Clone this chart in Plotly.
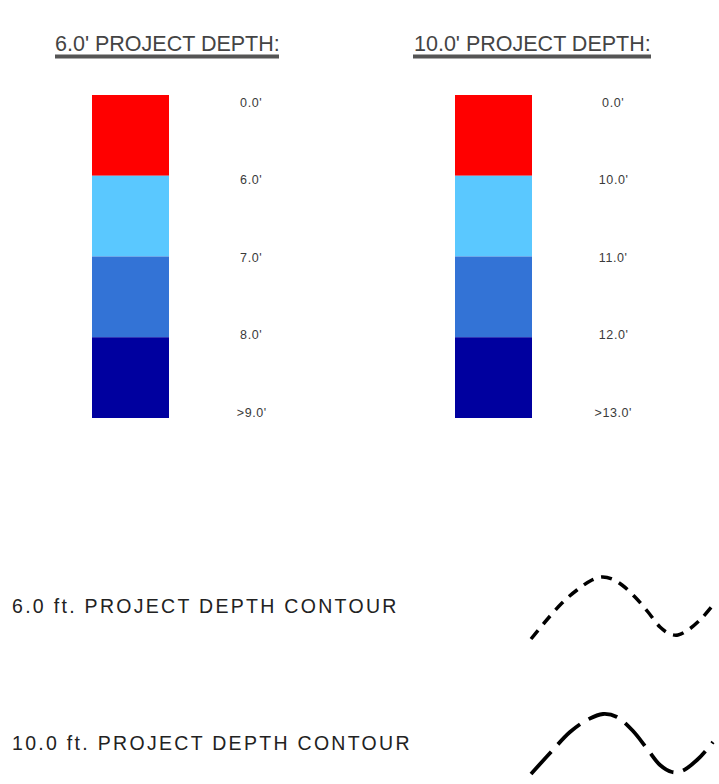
import plotly.graph_objects as go

# ---- data ----
band_colors = ["#FF0000", "#5AC8FF", "#3373D6", "#00009F"]
labels_6ft = ["0.0'", "6.0'", "7.0'", "8.0'", ">9.0'"]
labels_10ft = ["0.0'", "10.0'", "11.0'", "12.0'", ">13.0'"]
titles = ["6.0' PROJECT DEPTH:", "10.0' PROJECT DEPTH:"]
contour_names = ["6.0 ft. PROJECT DEPTH CONTOUR", "10.0 ft. PROJECT DEPTH CONTOUR"]
contour6_x = [531, 545, 562, 577, 592, 602, 612, 622, 635, 648, 660, 670, 678, 688, 700, 713]
contour6_y = [639, 622, 603, 590, 580, 577, 579, 585, 597, 612, 627, 634, 635, 630, 620, 605]
contour10_x = [531, 551, 570, 587, 603, 617, 633, 648, 660, 672, 682, 697, 713]
contour10_y = [774, 752, 732, 720, 714, 717, 731, 750, 765, 772, 771, 760, 742]

W, H = 719, 784
fig = go.Figure()

# colour swatches (one bar trace per band, stacked downward)
col_centers = [130.5, 493.5]
bar_w = 77
top = 95
band_h = 80.75
for i, c in enumerate(band_colors):
    fig.add_trace(go.Bar(
        x=col_centers, y=[band_h, band_h], base=[top + i * band_h] * 2,
        width=[bar_w, bar_w], marker=dict(color=c, line=dict(width=0)),
        showlegend=False, hoverinfo="skip"))

# contour lines
fig.add_trace(go.Scatter(x=contour6_x, y=contour6_y, mode="lines",
                         line=dict(color="black", width=3.5, dash="11px,8px", shape="spline", smoothing=1.0),
                         showlegend=False, hoverinfo="skip"))
fig.add_trace(go.Scatter(x=contour10_x, y=contour10_y, mode="lines",
                         line=dict(color="black", width=3.8, dash="30px,10px", shape="spline", smoothing=1.0),
                         showlegend=False, hoverinfo="skip"))

font_family = "Liberation Sans, Arial, sans-serif"
annotations = []
shapes = []
# titles with thick underline
title_x = [167, 532]
title_halfw = [112, 119]
for tx, hw, t in zip(title_x, title_halfw, titles):
    annotations.append(dict(x=tx, y=44, text=t, showarrow=False, xanchor="center", yanchor="middle",
                            font=dict(family=font_family, size=21.5, color="#444444")))
    shapes.append(dict(type="line", x0=tx - hw, x1=tx + hw, y0=56.5, y1=56.5,
                       line=dict(color="#555555", width=4)))

# depth labels
label_cols = [(251, labels_6ft), (613, labels_10ft)]
for lx, labs in label_cols:
    for i, lab in enumerate(labs):
        annotations.append(dict(x=lx, y=102.5 + i * 77.6, text=lab, showarrow=False,
                                xanchor="center", yanchor="middle",
                                font=dict(family=font_family, size=12.5, color="#3a3a3a")))

# contour legend names
for ny, name in zip([606, 743], contour_names):
    annotations.append(dict(x=10, y=ny, text=name, showarrow=False, xanchor="left", yanchor="middle",
                            font=dict(family=font_family, size=19.5, color="#222222")))

fig.update_layout(
    width=W, height=H, margin=dict(l=0, r=0, t=0, b=0),
    paper_bgcolor="white", plot_bgcolor="white",
    xaxis=dict(range=[0, W], visible=False, fixedrange=True),
    yaxis=dict(range=[H, 0], visible=False, fixedrange=True),
    barmode="overlay", annotations=annotations, shapes=shapes,
)

post = """
document.body.style.margin = '0';
var gd = document.getElementById('{plot_id}');
gd.querySelectorAll('.annotation-text').forEach(function(t){
  var s = t.textContent;
  var sp = null;
  if (s.indexOf('CONTOUR') >= 0) { sp = 2.3; }
  else if (s.indexOf('PROJECT') < 0) { sp = 0.6; }
  if (sp === null) return;
  var w = t.getComputedTextLength();
  var x = parseFloat(t.getAttribute('x') || '0');
  var anchor = t.getAttribute('text-anchor') || 'middle';
  if (anchor === 'middle') {
    if (s.indexOf('CONTOUR') >= 0) {
      t.setAttribute('text-anchor', 'start');
      t.setAttribute('x', x - w / 2);
    } else {
      t.setAttribute('x', x + sp / 2);
    }
  }
  t.style.letterSpacing = sp + 'px';
});
"""
fig.write_html("out.html", post_script=post, config={"displayModeBar": False, "staticPlot": True})
